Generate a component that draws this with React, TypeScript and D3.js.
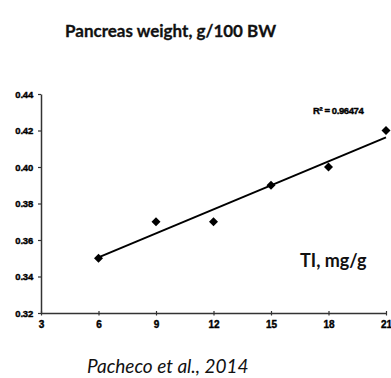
import React, { useEffect, useRef } from 'react';
import * as d3 from 'd3';

const tiValues = [6, 9, 12, 15, 18, 21];
const pancreasWeight = [0.35, 0.37, 0.37, 0.39, 0.40, 0.42];
const xTicks = [3, 6, 9, 12, 15, 18, 21];
const yTicks = [0.32, 0.34, 0.36, 0.38, 0.40, 0.42, 0.44];
const rSquaredLabel = 'R² = 0.96474';

const App = () => {
  const svgRef = useRef<SVGSVGElement | null>(null);

  useEffect(() => {
    if (!svgRef.current) return;
    const svg = d3.select(svgRef.current);
    svg.selectAll('*').remove();

    const width = 391;
    const height = 378;

    // plot area
    const x = d3.scaleLinear().domain([3, 21]).range([41, 386]);
    const y = d3.scaleLinear().domain([0.32, 0.44]).range([313, 94]);

    svg.attr('width', width).attr('height', height);

    // Title
    svg.append('text')
      .attr('x', 65)
      .attr('y', 37)
      .style('font-family', 'Lato, "Open Sans", sans-serif')
      .style('font-weight', 'bold')
      .style('font-size', '17px')
      .attr('fill', '#111')
      .attr('stroke', '#111')
      .attr('stroke-width', 0.3)
      .text('Pancreas weight, g/100 BW');

    // Y axis
    const yAxis = svg.append('g')
      .attr('transform', 'translate(41,0)')
      .call(d3.axisLeft(y).tickValues(yTicks).tickSize(3).tickSizeOuter(0).tickFormat(d3.format('.2f')));
    yAxis.select('.domain').attr('stroke', '#333').attr('stroke-width', 1.5);
    yAxis.selectAll('line').attr('stroke', '#333').attr('stroke-width', 1.2);
    yAxis.selectAll('text')
      .attr('x', -8)
      .style('font-family', '"Liberation Sans", Arial, sans-serif')
      .style('font-weight', 'bold')
      .style('font-size', '9.5px')
      .style('letter-spacing', '-0.2px')
      .attr('fill', '#000')
      .attr('stroke', '#000')
      .attr('stroke-width', 0.4);

    // X axis
    const xAxis = svg.append('g')
      .attr('transform', 'translate(0,313)')
      .call(d3.axisBottom(x).tickValues(xTicks).tickSize(2.5).tickSizeOuter(0));
    xAxis.select('.domain').attr('stroke', '#333').attr('stroke-width', 1.5);
    xAxis.selectAll('line').attr('stroke', '#333').attr('stroke-width', 1.2).attr('y1', -2);
    xAxis.selectAll('text')
      .attr('y', 8)
      .style('font-family', '"Liberation Sans", Arial, sans-serif')
      .style('font-weight', 'bold')
      .style('font-size', '10px')
      .attr('fill', '#000')
      .attr('stroke', '#000')
      .attr('stroke-width', 0.4);

    // Linear trend line from least squares
    const mx = d3.mean(tiValues) as number;
    const my = d3.mean(pancreasWeight) as number;
    const sxy = d3.sum(tiValues, (v, i) => (v - mx) * (pancreasWeight[i] - my));
    const sxx = d3.sum(tiValues, v => (v - mx) * (v - mx));
    const slope = sxy / sxx;
    const intercept = my - slope * mx;
    const x0 = tiValues[0];
    const x1 = tiValues[tiValues.length - 1];

    svg.append('path')
      .datum([x0, x1])
      .attr('fill', 'none')
      .attr('stroke', '#000')
      .attr('stroke-width', 2)
      .attr('d', d3.line<number>().x(d => x(d)).y(d => y(intercept + slope * d)));

    // Diamond markers (equal width and height)
    const r = 4.5;
    svg.selectAll('path.pt')
      .data(tiValues)
      .enter()
      .append('path')
      .attr('class', 'pt')
      .attr('transform', (d, i) => `translate(${x(d)},${y(pancreasWeight[i])})`)
      .attr('d', `M0,${-r}L${r},0L0,${r}L${-r},0Z`)
      .attr('fill', '#000');

    // R² label
    svg.append('text')
      .attr('x', 313)
      .attr('y', 114)
      .style('font-family', '"Liberation Sans", Arial, sans-serif')
      .style('font-weight', 'bold')
      .style('font-size', '9.5px')
      .style('letter-spacing', '-0.4px')
      .attr('fill', '#000')
      .attr('stroke', '#000')
      .attr('stroke-width', 0.4)
      .text(rSquaredLabel);

    // TI label
    svg.append('text')
      .attr('x', 300)
      .attr('y', 267)
      .style('font-family', 'Lato, "Open Sans", sans-serif')
      .style('font-weight', 'bold')
      .style('font-size', '18px')
      .attr('fill', '#111')
      .text('TI, mg/g');

    // Citation
    svg.append('text')
      .attr('x', 87)
      .attr('y', 373)
      .style('font-family', 'Lato, "Open Sans", sans-serif')
      .style('font-style', 'italic')
      .style('font-size', '19px')
      .attr('fill', '#111')
      .text('Pacheco et al., 2014');
  }, []);

  return (
    <div style={{ position: 'absolute', left: 0, top: 0, width: 391, height: 378, background: '#fff' }}>
      <svg ref={svgRef} style={{ display: 'block' }}></svg>
    </div>
  );
};

export default App;
